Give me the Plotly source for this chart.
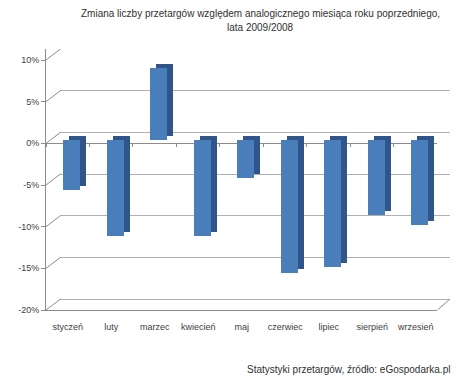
import plotly.graph_objects as go

months = ["styczeń", "luty", "marzec", "kwiecień", "maj", "czerwiec", "lipiec", "sierpień", "wrzesień"]
change_pct = [-6.0, -11.5, 8.6, -11.5, -4.6, -16.0, -15.2, -9.0, -10.2]
tick_vals = [10, 5, 0, -5, -10, -15, -20]
tick_text = ["10%", "5%", "0%", "-5%", "-10%", "-15%", "-20%"]

# the page body has an 8px margin; size the figure so it fills the window
OFF = 8
W, H = 460 - OFF, 380 - OFF
ML, MT = 32 - OFF, 49 - OFF
MR, MB = 10, 70
PW = W - ML - MR          # 418
PH = H - MT - MB          # 261
FRONT_W = 405             # front plane width (px)
DEPTH_X, DEPTH_Y = 15, 11 # back plane offset (px)
UNIT = 250 / 30           # px per percent
Y_LO = -20
Y_HI_FRONT = Y_LO + PH / UNIT

def yrange(shift_px):
    d = shift_px / UNIT
    return [Y_LO - d, Y_HI_FRONT - d]

def xdom(shift_px, width_px):
    return [shift_px / PW, min(1.0, (shift_px + width_px) / PW)]

def px_x(x):  # target page x -> paper
    return (x - 32) / PW

def px_y(y):  # target page y -> paper
    return (310 - y) / PH

FONT = "Liberation Sans"
GRID = "#b0b0b0"
AXC = "#8c8c8c"
TXT = "#404040"

fig = go.Figure()
fig.add_trace(go.Scatter(x=months, y=[None] * len(months), xaxis="x", yaxis="y",
                         showlegend=False, hoverinfo="skip"))
fig.add_trace(go.Scatter(x=months, y=[None] * len(months), xaxis="x2", yaxis="y2",
                         showlegend=False, hoverinfo="skip"))
fig.add_trace(go.Scatter(x=months, y=[None] * len(months), xaxis="x3", yaxis="y2",
                         showlegend=False, hoverinfo="skip"))
# bar depth (side / top faces)
fig.add_trace(go.Bar(x=months, y=change_pct, xaxis="x4", yaxis="y4", width=0.4,
                     marker=dict(color="#30558a", line=dict(width=0)),
                     showlegend=False, hoverinfo="skip"))
# bar front faces
fig.add_trace(go.Bar(x=months, y=change_pct, xaxis="x5", yaxis="y5", width=0.4,
                     marker=dict(color="#4a7ebb", line=dict(width=0)),
                     showlegend=False))

hidden_x = dict(type="category", categoryorder="array", categoryarray=months,
                showgrid=False, zeroline=False, showline=False, showticklabels=False,
                ticks="", range=[-0.5, len(months) - 0.5])
hidden_y = dict(showgrid=False, zeroline=False, showline=False, showticklabels=False, ticks="")

shapes = []
for v in tick_vals:
    shapes.append(dict(type="line", xref="paper", yref="y2", x0=0, x1=DEPTH_X / PW,
                       y0=v, y1=v + DEPTH_Y / UNIT, line=dict(color=AXC, width=1)))
shapes.append(dict(type="line", xref="paper", yref="y2", x0=FRONT_W / PW, x1=1,
                   y0=Y_LO, y1=Y_LO + DEPTH_Y / UNIT, line=dict(color=AXC, width=1)))

fig.update_layout(
    width=W, height=H,
    margin=dict(l=ML, r=MR, t=MT, b=MB),
    paper_bgcolor="white", plot_bgcolor="rgba(0,0,0,0)",
    font=dict(family=FONT, size=9, color=TXT),
    bargap=0,
    xaxis=dict(hidden_x, domain=xdom(DEPTH_X, FRONT_W), anchor="y"),
    yaxis=dict(domain=[0, 1], range=yrange(DEPTH_Y),
               tickvals=tick_vals, showticklabels=False, ticks="", showgrid=True,
               gridcolor=GRID, gridwidth=1.3, zeroline=False, showline=False, anchor="x"),
    xaxis2=dict(type="category", categoryorder="array", categoryarray=months,
                range=[-0.5, len(months) - 0.5], domain=xdom(0, FRONT_W), anchor="y2",
                showgrid=False, zeroline=False, showline=True, linecolor=AXC, linewidth=1,
                ticks="", showticklabels=True, ticklabelstandoff=8,
                tickfont=dict(family=FONT, size=9, color=TXT)),
    yaxis2=dict(domain=[0, 1], range=yrange(0), anchor="x2",
                tickvals=tick_vals, ticktext=tick_text, ticks="outside", ticklen=4,
                tickcolor=AXC, showgrid=False, zeroline=True, zerolinecolor=AXC,
                zerolinewidth=1, showline=True, linecolor=AXC, linewidth=1,
                tickfont=dict(family=FONT, size=9, color=TXT)),
    xaxis3=dict(type="category", categoryorder="array", categoryarray=months,
                range=[-0.5, len(months) - 0.5], overlaying="x2", anchor="free",
                position=(0 - Y_LO) / (Y_HI_FRONT - Y_LO), side="bottom",
                tickson="boundaries", ticks="outside", ticklen=3, tickcolor=AXC,
                showticklabels=False, showgrid=False, zeroline=False, showline=False),
    xaxis4=dict(hidden_x, domain=xdom(10, FRONT_W), anchor="y4"),
    yaxis4=dict(hidden_y, domain=[0, 1], range=yrange(7.5), anchor="x4"),
    xaxis5=dict(hidden_x, domain=xdom(4, FRONT_W), anchor="y5"),
    yaxis5=dict(hidden_y, domain=[0, 1], range=yrange(3.5), anchor="x5"),
    shapes=shapes,
    annotations=[
        dict(text="Zmiana liczby przetargów względem analogicznego miesiąca roku poprzedniego,",
             xref="paper", yref="paper", x=px_x(254), y=px_y(14),
             xanchor="center", yanchor="middle", showarrow=False,
             font=dict(family=FONT, size=10, color="#303030")),
        dict(text="lata 2009/2008",
             xref="paper", yref="paper", x=px_x(254), y=px_y(28),
             xanchor="center", yanchor="middle", showarrow=False,
             font=dict(family=FONT, size=10, color="#303030")),
        dict(text="Statystyki przetargów, źródło: eGospodarka.pl",
             xref="paper", yref="paper", x=px_x(452), y=px_y(369),
             xanchor="right", yanchor="middle", showarrow=False,
             font=dict(family=FONT, size=10, color="#303030")),
    ],
)

fig.write_html("out.html")
